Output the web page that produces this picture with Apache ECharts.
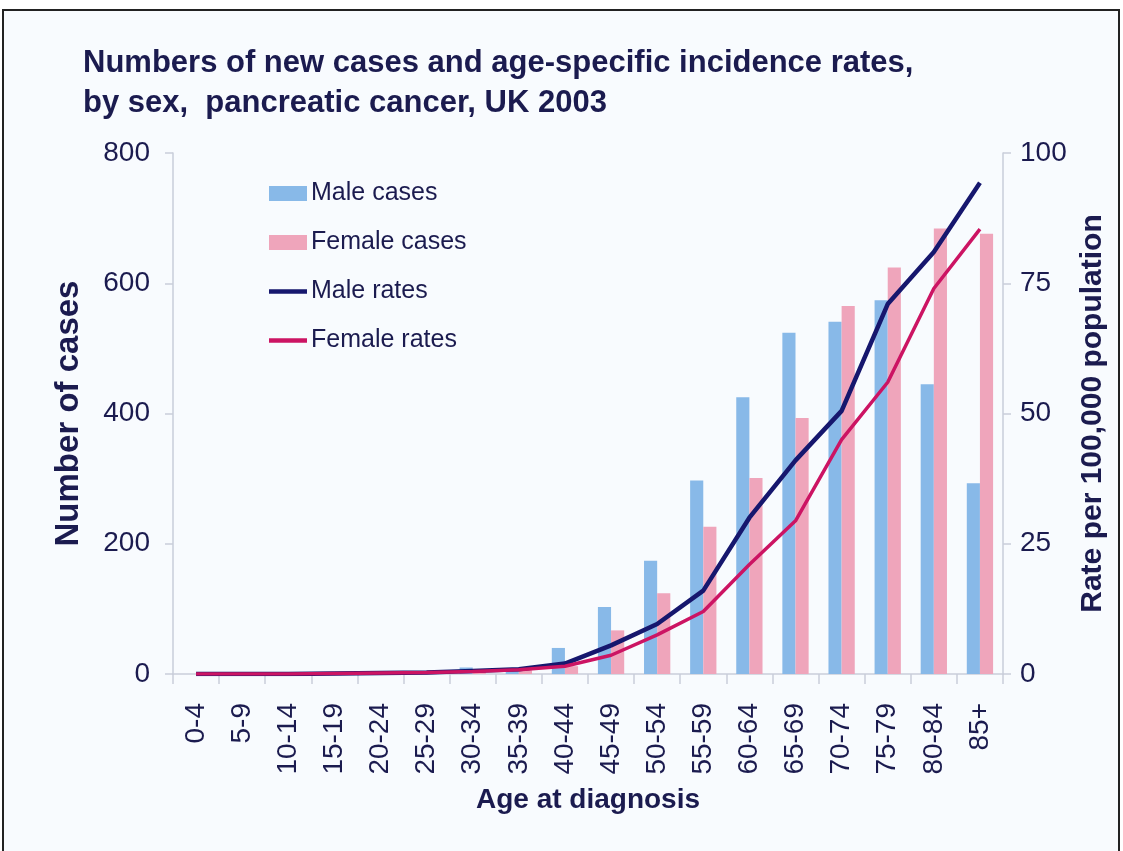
<!DOCTYPE html>
<html>
<head>
<meta charset="utf-8">
<script src="https://cdn.jsdelivr.net/npm/echarts@6/dist/echarts.min.js"></script>
<style>
  html, body { margin: 0; padding: 0; background: #ffffff; }
  #frame { position: absolute; left: 2px; top: 9px; width: 1118px; height: 846px; border: 2px solid #222; background: #f8fbfe; box-sizing: border-box; }
  #chart { position: absolute; left: 0; top: 0; width: 1123px; height: 851px; }
</style>
</head>
<body>
<div id="frame"></div>
<div id="chart"></div>
<script>
// Age bands at diagnosis
const ageGroups = ['0-4','5-9','10-14','15-19','20-24','25-29','30-34','35-39','40-44','45-49','50-54','55-59','60-64','65-69','70-74','75-79','80-84','85+'];
// Numbers of new cases
const maleCases   = [0, 0, 0, 1, 2, 3, 10, 7, 40, 103, 174, 297, 425, 524, 541, 574, 445, 293];
const femaleCases = [0, 0, 0, 1, 2, 3, 5, 6, 12, 67, 124, 226, 301, 393, 565, 624, 684, 676];
// Age-specific rates per 100,000 population
const maleRates   = [0, 0, 0, 0.1, 0.2, 0.3, 0.6, 0.9, 2.0, 5.5, 9.6, 16, 30, 41, 50.5, 71, 81, 94.3];
const femaleRates = [0, 0, 0, 0.1, 0.2, 0.3, 0.5, 0.8, 1.5, 3.6, 7.5, 12, 21, 29.4, 45, 56, 74, 85.4];

const ink = '#1b1b4f';
const font = 'Liberation Sans, Arial, sans-serif';
const axisGrey = '#c9ceda';

const chart = echarts.init(document.getElementById('chart'));
chart.setOption({
  backgroundColor: 'transparent',
  textStyle: { fontFamily: font },
  title: {
    text: 'Numbers of new cases and age-specific incidence rates,\nby sex,  pancreatic cancer, UK 2003',
    left: 78, top: 38,
    textStyle: { fontFamily: font, fontSize: 31, fontWeight: 'bold', color: ink, lineHeight: 40 }
  },
  legend: {
    orient: 'vertical', left: 264, top: 176,
    itemWidth: 38, itemHeight: 15, itemGap: 24,
    textStyle: { fontFamily: font, fontSize: 25, color: ink, padding: [0, 0, 0, -1] },
    data: [
      { name: 'Male cases', icon: 'rect' },
      { name: 'Female cases', icon: 'rect' },
      { name: 'Male rates', icon: 'path://M0,0h40v4.5h-40z' },
      { name: 'Female rates', icon: 'path://M0,0h40v4.5h-40z' }
    ]
  },
  grid: { left: 173, right: 120, top: 153, bottom: 177, containLabel: false },
  xAxis: {
    type: 'category', data: ageGroups,
    boundaryGap: true,
    name: 'Age at diagnosis', nameLocation: 'middle', nameGap: 112,
    nameTextStyle: { fontFamily: font, fontSize: 28, fontWeight: 'bold', color: ink },
    axisLine: { lineStyle: { color: axisGrey, width: 1.5 } },
    axisTick: { show: true, alignWithLabel: false, length: 10, lineStyle: { color: axisGrey, width: 1.5 } },
    axisLabel: { rotate: 90, interval: 0, margin: 29, fontFamily: font, fontSize: 28, color: ink }
  },
  yAxis: [
    {
      type: 'value', min: 0, max: 800, interval: 200,
      name: 'Number of cases', nameLocation: 'middle', nameRotate: 90, nameGap: 88,
      nameTextStyle: { fontFamily: font, fontSize: 33, fontWeight: 'bold', color: ink },
      axisLine: { show: true, lineStyle: { color: axisGrey, width: 1.5 } },
      axisTick: { show: true, length: 8, lineStyle: { color: axisGrey, width: 1.5 } },
      splitLine: { show: false },
      axisLabel: { margin: 23, fontFamily: font, fontSize: 28, color: ink }
    },
    {
      type: 'value', min: 0, max: 100, interval: 25,
      name: 'Rate per 100,000 population', nameLocation: 'middle', nameRotate: 90, nameGap: 74,
      nameTextStyle: { fontFamily: font, fontSize: 30, fontWeight: 'bold', color: ink },
      axisLine: { show: true, lineStyle: { color: axisGrey, width: 1.5 } },
      axisTick: { show: true, length: 8, lineStyle: { color: axisGrey, width: 1.5 } },
      splitLine: { show: false },
      axisLabel: { margin: 17, fontFamily: font, fontSize: 28, color: ink }
    }
  ],
  series: [
    {
      name: 'Male cases', type: 'bar', data: maleCases, yAxisIndex: 0,
      barGap: '0%', barCategoryGap: '43%',
      itemStyle: { color: '#88b9e8' }
    },
    {
      name: 'Female cases', type: 'bar', data: femaleCases, yAxisIndex: 0,
      itemStyle: { color: '#efa5bb' }
    },
    {
      name: 'Male rates', type: 'line', data: maleRates, yAxisIndex: 1,
      symbol: 'none', smooth: false,
      lineStyle: { color: '#16176e', width: 4.5 }, itemStyle: { color: '#16176e' }
    },
    {
      name: 'Female rates', type: 'line', data: femaleRates, yAxisIndex: 1,
      symbol: 'none', smooth: false,
      lineStyle: { color: '#cc1463', width: 3.5 }, itemStyle: { color: '#cc1463' }
    }
  ]
});
</script>
</body>
</html>
